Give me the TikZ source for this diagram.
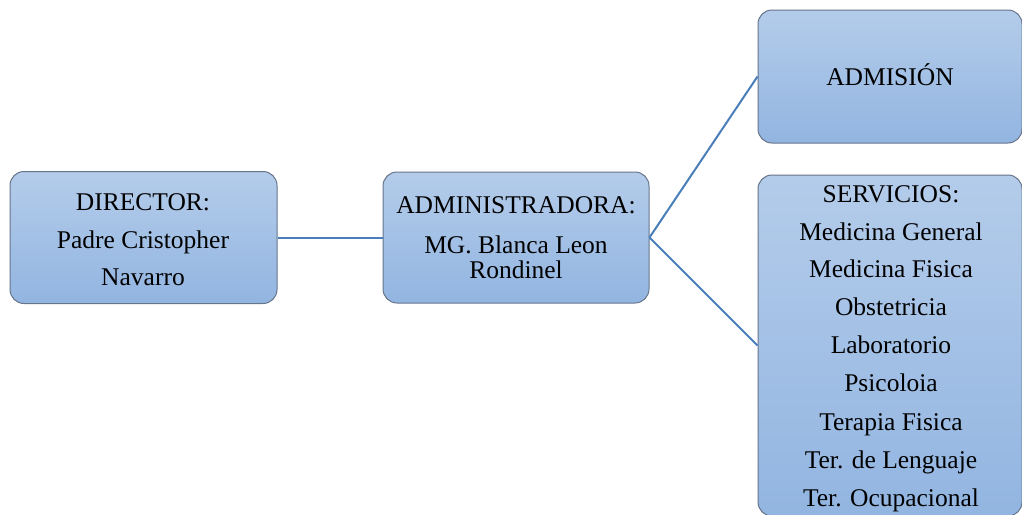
\documentclass[tikz,border=0pt]{standalone}
\usepackage{fontspec}
\setmainfont{Liberation Serif}
\definecolor{boxtop}{HTML}{B4CCEA}
\definecolor{boxbot}{HTML}{92B5E1}
\definecolor{boxline}{HTML}{66758A}
\definecolor{linkblue}{HTML}{4A7EBB}
\tikzset{
  orgbox/.style={draw=boxline, line width=1pt, rounded corners=14pt, top color=boxtop, bottom color=boxbot, inner sep=0pt},
  txt/.style={anchor=base, inner sep=0pt, font=\fontsize{25.5}{30}\selectfont},
  link/.style={draw=linkblue, line width=2pt}
}
\begin{document}
\begin{tikzpicture}[x=1pt,y=-1pt]
\useasboundingbox (0,0) rectangle (1022,514);
\begin{scope}
\clip (0,0) rectangle (1022,514);
\node[orgbox, minimum width=267pt, minimum height=132pt] (dir) at (143.5,237.5) {};
\node[orgbox, minimum width=266pt, minimum height=131pt] (adm) at (516,237.5) {};
\node[orgbox, minimum width=264pt, minimum height=133pt] (ads) at (890,76.5) {};
\node[orgbox, minimum width=264pt, minimum height=341pt] (ser) at (890,345.5) {};
\end{scope}
\draw[link] (dir.east) -- (adm.west);
\draw[link] (adm.east) -- (ads.west);
\draw[link] (adm.east) -- (ser.west);
% texts
\node[txt] (d1) at (143,210) {DIRECTOR:};
\node[txt] (d2) at (143,248) {Padre Cristopher};
\node[txt] (d3) at (143,285) {Navarro};
\node[txt] (a1) at (516,213) {ADMINISTRADORA:};
\node[txt] (a2) at (516,253) {MG. Blanca Leon};
\node[txt] (a3) at (516,278) {Rondinel};
\node[txt] (m1) at (890,85) {ADMISIÓN};
\node[txt] (s1) at (891,202) {SERVICIOS:};
\node[txt] (s2) at (891,240) {Medicina General};
\node[txt] (s3) at (891,277.5) {Medicina Fisica};
\node[txt] (s4) at (891,315.5) {Obstetricia};
\node[txt] (s5) at (891,353.5) {Laboratorio};
\node[txt] (s6) at (891,391.5) {Psicoloia};
\node[txt] (s7) at (891,430) {Terapia Fisica};
\node[txt] (s8) at (891,468) {Ter. de Lenguaje};
\node[txt] (s9) at (891,506) {Ter. Ocupacional};
\end{tikzpicture}
\end{document}
